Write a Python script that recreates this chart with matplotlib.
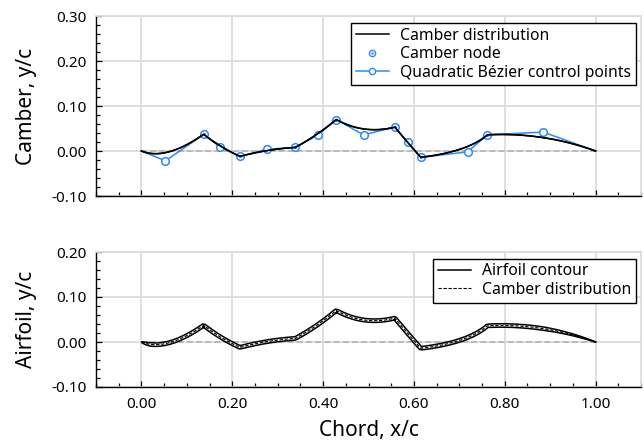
import numpy as np
import matplotlib
matplotlib.use("Agg")
import matplotlib.pyplot as plt
from matplotlib.ticker import MultipleLocator, FormatStrFormatter

plt.rcParams["font.family"] = ["Noto Sans", "DejaVu Sans"]
plt.rcParams["axes.unicode_minus"] = False

# Camber line defined by piecewise quadratic Bezier segments
le_point = (0.0, 0.0)
te_point = (1.0, 0.0)
node_x = [0.137, 0.217, 0.339, 0.429, 0.558, 0.615, 0.762]
node_y = [0.037, -0.012, 0.008, 0.070, 0.053, -0.014, 0.036]
ctrl_x = [0.053, 0.174, 0.277, 0.388, 0.489, 0.586, 0.718, 0.885]
ctrl_y = [-0.022, 0.008, 0.004, 0.035, 0.036, 0.019, -0.002, 0.042]
half_thickness = 0.0038

x_ticks = [0.0, 0.2, 0.4, 0.6, 0.8, 1.0]

BLUE = "#2b8cf5"
GRID = "#dcdcdc"

# Build the ordered polygon: end, ctrl, node, ctrl, ..., ctrl, end
ends_x = [le_point[0]] + node_x + [te_point[0]]
ends_y = [le_point[1]] + node_y + [te_point[1]]
poly_x, poly_y = [ends_x[0]], [ends_y[0]]
for i in range(len(ctrl_x)):
    poly_x += [ctrl_x[i], ends_x[i + 1]]
    poly_y += [ctrl_y[i], ends_y[i + 1]]

t = np.linspace(0, 1, 60)
cx, cy, dx, dy = [], [], [], []
for i in range(len(ctrl_x)):
    p0 = np.array([ends_x[i], ends_y[i]])
    p1 = np.array([ctrl_x[i], ctrl_y[i]])
    p2 = np.array([ends_x[i + 1], ends_y[i + 1]])
    pts = np.outer((1 - t) ** 2, p0) + np.outer(2 * (1 - t) * t, p1) + np.outer(t ** 2, p2)
    der = np.outer(2 * (1 - t), p1 - p0) + np.outer(2 * t, p2 - p1)
    sl = slice(0 if i == 0 else 1, None)
    cx.append(pts[sl, 0]); cy.append(pts[sl, 1])
    dx.append(der[sl, 0]); dy.append(der[sl, 1])
cx = np.concatenate(cx); cy = np.concatenate(cy)
dx = np.concatenate(dx); dy = np.concatenate(dy)

# Airfoil surfaces: constant thickness offset normal to the camber, closed at both ends
nrm = np.hypot(dx, dy)
nx, ny = -dy / nrm, dx / nrm
closure = np.clip(np.sqrt(cx / 0.02), 0, 1) * np.clip((1 - cx) / 0.12, 0, 1) ** 0.7
th = half_thickness * closure
ux, uy = cx + th * nx, cy + th * ny
lx, ly = cx - th * nx, cy - th * ny
contour_x = np.concatenate([ux[::-1], lx])
contour_y = np.concatenate([uy[::-1], ly])

fig = plt.figure(figsize=(6.44, 4.45), dpi=100)
W, H = 644, 445
ax1 = fig.add_axes([96 / W, 1 - 196 / H, (641 - 96) / W, (196 - 16) / H])
ax2 = fig.add_axes([96 / W, 1 - 387 / H, (641 - 96) / W, (387 - 252) / H])


def style(ax, ylim):
    ax.set_xlim(-0.1, 1.1)
    ax.set_ylim(*ylim)
    ax.set_xticks(x_ticks)
    ax.xaxis.set_minor_locator(MultipleLocator(0.05))
    ax.yaxis.set_major_locator(MultipleLocator(0.1))
    ax.yaxis.set_minor_locator(MultipleLocator(0.02))
    ax.xaxis.set_major_formatter(FormatStrFormatter("%.2f"))
    ax.yaxis.set_major_formatter(FormatStrFormatter("%.2f"))
    ax.grid(True, which="major", color=GRID, lw=1.3, zorder=0)
    ax.set_axisbelow(True)
    ax.tick_params(which="both", direction="in", top=False, right=False,
                   labelsize=11, color="black", width=0.9)
    ax.tick_params(which="major", length=4.5, pad=7)
    ax.tick_params(which="minor", length=3)
    for side in ("top", "right"):
        ax.spines[side].set_color(GRID)
        ax.spines[side].set_linewidth(1.3)
    for side in ("left", "bottom"):
        ax.spines[side].set_color("black")
        ax.spines[side].set_linewidth(1.0)
    ax.plot([0, 1], [0, 0], color="#b0b0b0", lw=1.1, ls=(0, (4, 2)), zorder=1)


style(ax1, (-0.1, 0.3))
style(ax2, (-0.1, 0.2))
ax1.tick_params(labelbottom=False)

# Top panel: camber and its Bezier control polygon
h_cam, = ax1.plot(cx, cy, color="black", lw=1.1, zorder=5)
h_poly, = ax1.plot(poly_x, poly_y, color=BLUE, lw=1.1, marker="o", ms=5.5,
                   mfc="white", mec=BLUE, mew=1.1, zorder=3, markevery=list(range(1, len(poly_x) - 1, 2)))
h_node_ring, = ax1.plot(node_x, node_y, ls="none", marker="o", ms=5.5, mfc="white",
                        mec=BLUE, mew=1.1, zorder=4)
h_node_dot, = ax1.plot(node_x, node_y, ls="none", marker="o", ms=2.2, mfc=BLUE,
                       mec=BLUE, mew=0, zorder=4)
ax1.plot(cx, cy, color="black", lw=1.1, zorder=6)
# legend-only ring marker for camber nodes
leg_node_ring, = ax1.plot([], [], ls="none", marker="o", ms=4.5, mfc="white", mec=BLUE, mew=1.0)
leg_node_dot, = ax1.plot([], [], ls="none", marker="o", ms=1.8, mfc=BLUE, mec=BLUE, mew=0)
leg_poly, = ax1.plot([], [], color=BLUE, lw=1.1, marker="o", ms=4.5, mfc="white", mec=BLUE, mew=1.0)

lg1 = ax1.legend([h_cam, (leg_node_ring, leg_node_dot), leg_poly],
                 ["Camber distribution", "Camber node", "Quadratic Bézier control points"],
                 loc="upper right", bbox_to_anchor=(0.99, 0.96), fontsize=11.3,
                 frameon=True, fancybox=False, edgecolor="black", framealpha=1,
                 handlelength=2.1, handletextpad=0.7, borderpad=0.3, labelspacing=0.15,
                 borderaxespad=0.0)
lg1.get_frame().set_linewidth(1.0)
ax1.set_ylabel("Camber, y/c", fontsize=15, labelpad=10)

# Bottom panel: airfoil contour around the camber line
ax2.plot(contour_x, contour_y, color="black", lw=1.1, zorder=4, label="Airfoil contour")
ax2.plot(cx, cy, color="black", lw=0.8, ls=(0, (3, 1.5)), zorder=5, label="Camber distribution")
lg2 = ax2.legend(loc="upper right", bbox_to_anchor=(0.99, 0.95), fontsize=11.3,
                 frameon=True, fancybox=False, edgecolor="black", framealpha=1,
                 handlelength=2.1, handletextpad=0.7, borderpad=0.3, labelspacing=0.15,
                 borderaxespad=0.0)
lg2.get_frame().set_linewidth(1.0)
ax2.set_ylabel("Airfoil, y/c", fontsize=15, labelpad=10)
ax2.set_xlabel("Chord, x/c", fontsize=15, labelpad=6)

fig.savefig("out.png", dpi=100)
